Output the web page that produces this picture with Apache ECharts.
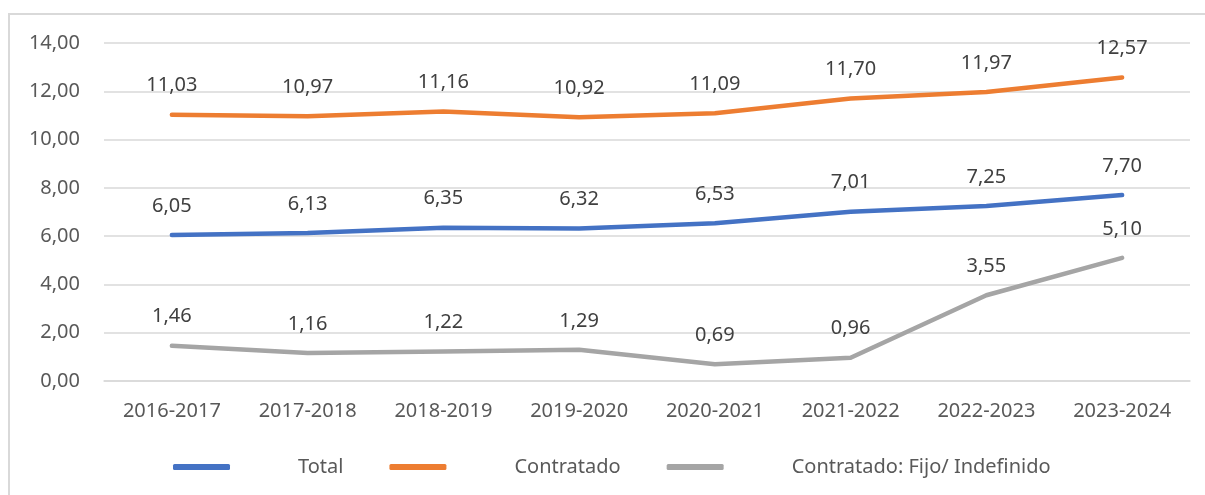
<!DOCTYPE html>
<html>
<head>
<meta charset="utf-8">
<script src="https://cdn.jsdelivr.net/npm/echarts@6/dist/echarts.min.js"></script>
<style>
  html, body { margin: 0; padding: 0; background: #fff; }
  #box { position: absolute; left: 8px; top: 13px; width: 1220px; height: 500px; border: 2px solid #d9d9d9; box-sizing: border-box; }
  #chart { position: absolute; left: 0; top: 0; width: 1205px; height: 495px; }
</style>
</head>
<body>
<div id="box"></div>
<div id="chart"></div>
<script>
const categories = ["2016-2017", "2017-2018", "2018-2019", "2019-2020", "2020-2021", "2021-2022", "2022-2023", "2023-2024"];
const total = [6.05, 6.13, 6.35, 6.32, 6.53, 7.01, 7.25, 7.70];
const contratado = [11.03, 10.97, 11.16, 10.92, 11.09, 11.70, 11.97, 12.57];
const fijo = [1.46, 1.16, 1.22, 1.29, 0.69, 0.96, 3.55, 5.10];

const font = "Noto Sans";
const fmt = v => v.toFixed(2).replace(".", ",");

function line(name, data, color) {
  return {
    name: name,
    type: "line",
    data: data,
    symbol: "circle",
    symbolSize: 0.1,
    showSymbol: true,
    lineStyle: { width: 4.5, color: color, cap: "round", join: "round" },
    itemStyle: { color: color },
    label: {
      show: true,
      position: "top",
      distance: 19,
      fontFamily: font,
      fontSize: 20,
      color: "#404040",
      formatter: p => fmt(p.value)
    }
  };
}

let chart = echarts.init(document.getElementById("chart"));
chart.setOption({
  animation: false,
  grid: { left: 104, right: 15, top: 43, bottom: 114 },
  legend: {
    left: 168,
    top: 452,
    itemWidth: 57,
    itemHeight: 6,
    itemGap: 46,
    icon: "roundRect",
    textStyle: { fontFamily: font, fontSize: 20, color: "#595959", padding: [0, 0, 0, 63] },
    data: ["Total", "Contratado", "Contratado: Fijo/ Indefinido"]
  },
  xAxis: {
    type: "category",
    data: categories,
    boundaryGap: true,
    axisLine: { lineStyle: { color: "#d9d9d9", width: 1.5 } },
    axisTick: { show: false },
    axisLabel: { fontFamily: font, fontSize: 20, color: "#595959", margin: 20 }
  },
  yAxis: {
    type: "value",
    min: 0,
    max: 14,
    interval: 2,
    axisLine: { show: false },
    axisTick: { show: false },
    splitLine: { lineStyle: { color: "#d9d9d9", width: 1.5 } },
    axisLabel: { fontFamily: font, fontSize: 20, color: "#595959", margin: 24, formatter: v => fmt(v) }
  },
  series: [
    line("Total", total, "#4472c4"),
    line("Contratado", contratado, "#ed7d31"),
    line("Contratado: Fijo/ Indefinido", fijo, "#a5a5a5")
  ]
});
</script>
</body>
</html>
